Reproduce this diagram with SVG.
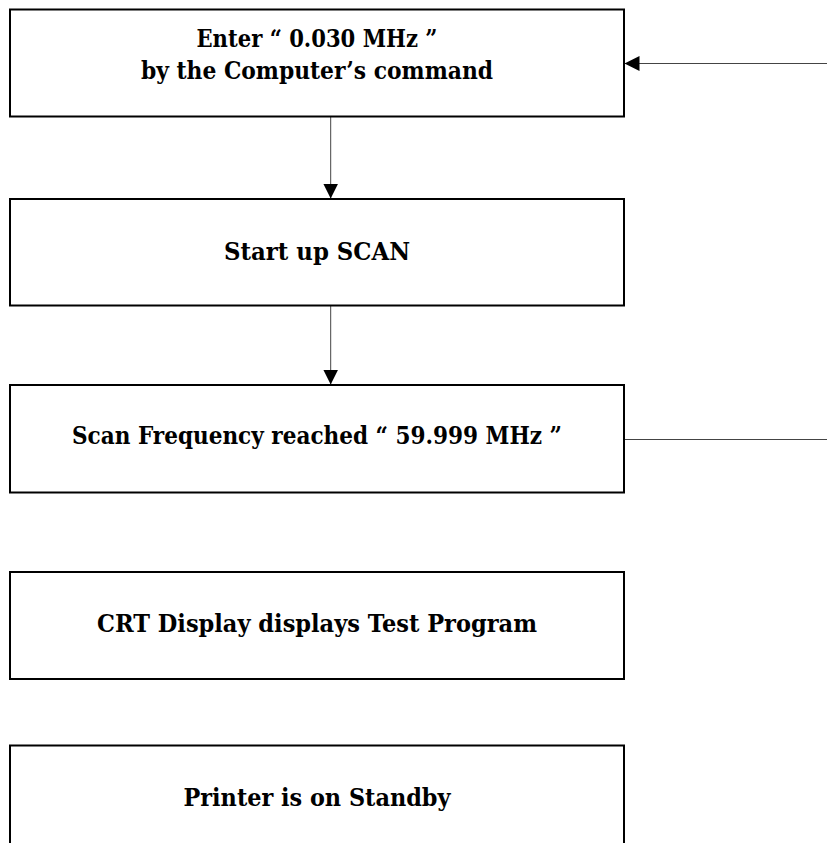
<svg xmlns="http://www.w3.org/2000/svg" width="827" height="843" viewBox="0 0 827 843">
<style>
.box{fill:#fff;stroke:#000;stroke-width:2}
.lbl{font-family:"DejaVu Serif","Liberation Serif",serif;font-weight:bold;font-size:24px;fill:#000;text-anchor:middle}
.conn{stroke:#444;stroke-width:1;fill:none}
</style>
<defs>
<marker id="ah" markerWidth="16" markerHeight="15" refX="15" refY="7.5" orient="auto" markerUnits="userSpaceOnUse">
<path d="M0,0 L15,7.5 L0,15 Z" fill="#000"/>
</marker>
</defs>
<rect width="827" height="843" fill="#fff"/>
<g id="connectors">
<line class="conn" x1="330.7" y1="116.5" x2="330.7" y2="198.5" marker-end="url(#ah)"/>
<line class="conn" x1="330.7" y1="305.5" x2="330.7" y2="384.5" marker-end="url(#ah)"/>
<line class="conn" x1="827" y1="63.5" x2="624.5" y2="63.5" marker-end="url(#ah)"/>
<line class="conn" x1="624" y1="439.5" x2="827" y2="439.5"/>
</g>
<g id="n1">
<rect class="box" x="10" y="9.5" width="614" height="107"/>
<text class="lbl" x="317" y="46.5" textLength="241" lengthAdjust="spacingAndGlyphs">Enter “ 0.030 MHz ”</text>
<text class="lbl" x="317" y="79" textLength="352" lengthAdjust="spacingAndGlyphs">by the Computer’s command</text>
</g>
<g id="n2">
<rect class="box" x="10" y="199" width="614" height="106.5"/>
<text class="lbl" x="317" y="259.5" textLength="186" lengthAdjust="spacingAndGlyphs">Start up SCAN</text>
</g>
<g id="n3">
<rect class="box" x="10" y="385" width="614" height="107.5"/>
<text class="lbl" x="317" y="444.3" textLength="490" lengthAdjust="spacingAndGlyphs">Scan Frequency reached “ 59.999 MHz ”</text>
</g>
<g id="n4">
<rect class="box" x="10" y="572" width="614" height="107"/>
<text class="lbl" x="317" y="631.7" textLength="440" lengthAdjust="spacingAndGlyphs">CRT Display displays Test Program</text>
</g>
<g id="n5">
<rect class="box" x="10" y="745.5" width="614" height="110"/>
<text class="lbl" x="317" y="805.5" textLength="267" lengthAdjust="spacingAndGlyphs">Printer is on Standby</text>
</g>
</svg>
